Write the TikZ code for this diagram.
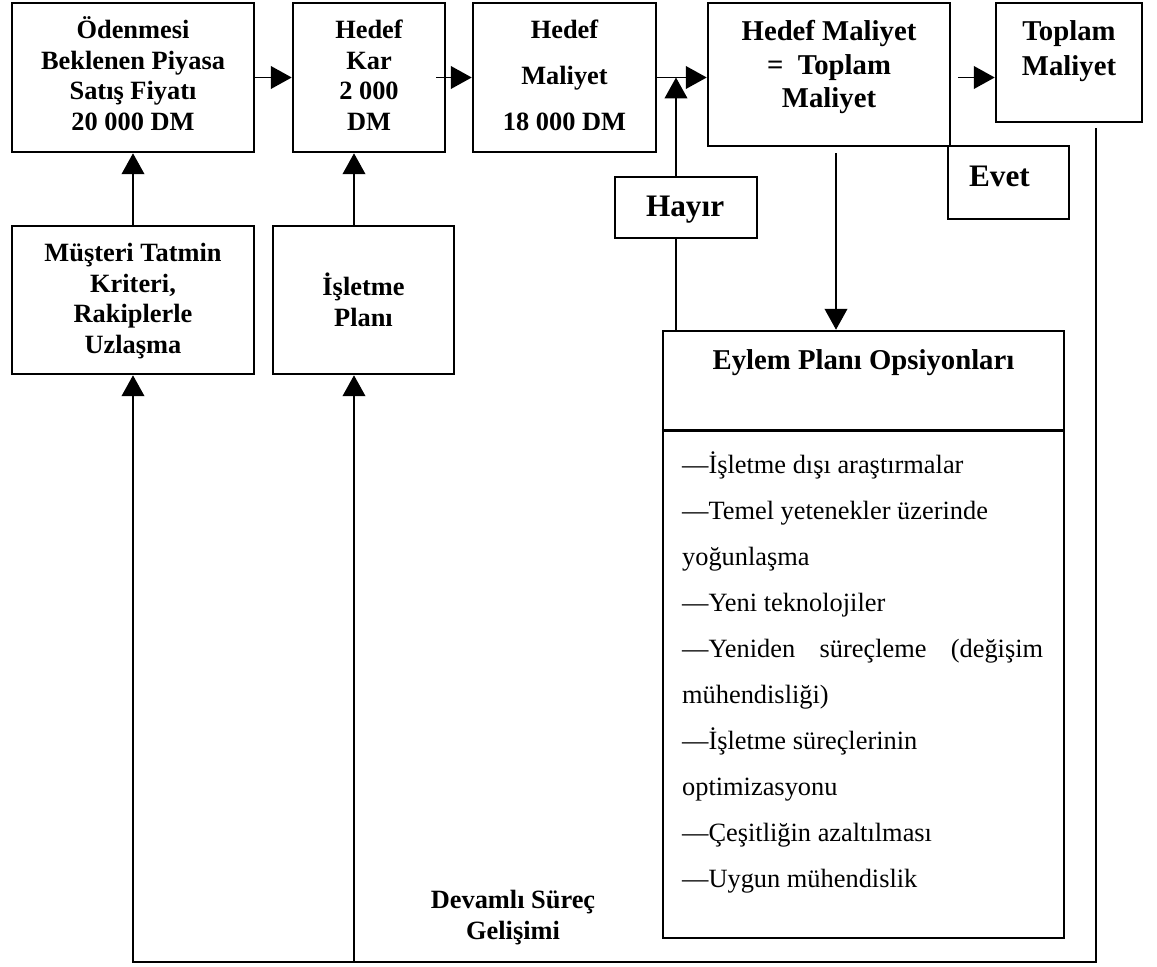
\documentclass[tikz,border=0pt]{standalone}
\usepackage{fontspec}
\setmainfont{Liberation Serif}
\usetikzlibrary{arrows.meta,calc}

% centred bold multi-line text whose baseline is its first line
\newcommand{\boxtext}[4]{\parbox[t]{#1}{\centering\fontsize{#2}{#3}\selectfont\bfseries #4}}
% bold one-line text set in from the left edge
\newcommand{\indtext}[4]{\parbox[t]{#1}{\raggedright\fontsize{#3}{#3}\selectfont\bfseries\hspace*{#2}#4}}

\tikzset{
  boxline/.style={draw, line width=1.2pt},
  pbox/.style={boxline, inner sep=0pt, outer sep=0.6pt},
  link/.style={line width=0.9pt},
  arr/.style={link, -{Triangle[length=9.8pt,width=10.6pt]}},
}

\begin{document}
\begin{tikzpicture}[x=0.47pt, y=-0.47pt]
\path[fill=white, use as bounding box] (0,0) rectangle (1157,967);

% top row
\node[pbox, minimum width=113.74pt, minimum height=70.03pt, text height=16.92pt, text depth=53.11pt]
  (b1) at (133,77.5) {\boxtext{113.74pt}{12.4}{14.3}{Ödenmesi\\Beklenen Piyasa\\Satış Fiyatı\\20 000 DM}};
\node[pbox, minimum width=71.44pt, minimum height=70.03pt, text height=16.92pt, text depth=53.11pt]
  (b2) at (369,77.5) {\boxtext{71.44pt}{12.4}{14.3}{Hedef\\Kar\\2 000\\DM}};
\node[pbox, minimum width=86.01pt, minimum height=70.03pt, text height=16.92pt, text depth=53.11pt]
  (b3) at (564.5,77.5) {\boxtext{86.01pt}{12.4}{21.6}{Hedef\\Maliyet\\18 000 DM}};
\node[pbox, minimum width=113.74pt, minimum height=67.21pt, text height=17.86pt, text depth=49.35pt]
  (b4) at (829,74.5) {\boxtext{113.74pt}{13.5}{15.7}{Hedef Maliyet\\=\ \ Toplam\\Maliyet}};
\node[pbox, minimum width=68.62pt, minimum height=55.93pt, text height=17.86pt, text depth=38.07pt]
  (b5) at (1069,62.5) {\boxtext{68.62pt}{13.5}{16.0}{Toplam\\Maliyet}};

% decision labels
\node[pbox, minimum width=56.87pt, minimum height=34.31pt, text height=19.27pt, text depth=15.04pt]
  (evet) at (1008.5,182.5) {\indtext{56.87pt}{9.87pt}{14.7}{Evet}};
\node[pbox, minimum width=66.74pt, minimum height=28.67pt, text height=18.8pt, text depth=9.87pt]
  (hayir) at (686,207.5) {\indtext{66.74pt}{14.57pt}{14.7}{Hayır}};

% inputs
\node[pbox, minimum width=113.74pt, minimum height=69.56pt, text height=16.92pt, text depth=52.64pt]
  (b6) at (133,300) {\boxtext{113.74pt}{12.4}{14.3}{Müşteri Tatmin\\Kriteri,\\Rakiplerle\\Uzlaşma}};
\node[pbox, minimum width=85.07pt, minimum height=69.56pt, text height=32.9pt, text depth=36.66pt]
  (b7) at (363.5,300) {\boxtext{85.07pt}{12.4}{14.3}{İşletme\\Planı}};

% action plan box
\node[pbox, minimum width=188.47pt, minimum height=285.29pt, text height=18.33pt, text depth=266.96pt]
  (ey) at (863.5,634.5) {\boxtext{188.47pt}{13.5}{16}{Eylem Planı Opsiyonları}};
\draw[boxline] ([yshift=-47.47pt]ey.north west) -- ([yshift=-47.47pt]ey.north east);
\node[anchor=base west, inner sep=0pt] (opts) at ($(ey.north west)+(20,144)$)
  {\parbox[t]{169.67pt}{\raggedright\fontsize{12.4}{21.6}\selectfont
    —İşletme dışı araştırmalar\par
    —Temel yetenekler üzerinde\par
    yoğunlaşma\par
    —Yeni teknolojiler\par
    \hbox to \linewidth{—Yeniden\hfill süreçleme\hfill (değişim}
    mühendisliği)\par
    —İşletme süreçlerinin\par
    optimizasyonu\par
    —Çeşitliğin azaltılması\par
    —Uygun mühendislik}};

% feedback label
\node[anchor=base, inner sep=0pt] (dv) at (513,908) {\boxtext{95pt}{12.4}{15}{Devamlı Süreç\\Gelişimi}};

% junction and routing points
\coordinate (j) at (676,77.5);
\coordinate (br) at (1096,962);
\coordinate (bl) at (133,962);
\coordinate (bm) at (354,962);

% main flow
\draw[arr] (b1.east) -- (b2.west);
\draw[arr] ([xshift=-4.7pt]b2.east) -- (b3.west);
\draw[arr] (b3.east) -- (b3.east -| b4.west);
\draw[arr] ([xshift=3.3pt]b4.east |- j) -- (b5.west |- j);

% no-branch back into the comparison
\draw[arr] (hayir.north -| j) -- (j);
\draw[link] (hayir.south -| j) -- (j |- ey.north);
\draw[arr] ([xshift=3.29pt,yshift=-2.82pt]b4.south) -- ([xshift=3.29pt]b4.south |- ey.north);

% continuous improvement loop
\draw[arr] ([yshift=-2.35pt]b5.south -| br) -- (br) -- (bl) -- (b6.south);
\draw[arr] (bm) -- (bm |- b7.south);
\draw[arr] (b6.north) -- (b1.south);
\draw[arr] (b7.north -| bm) -- (b2.south -| bm);
\end{tikzpicture}
\end{document}
